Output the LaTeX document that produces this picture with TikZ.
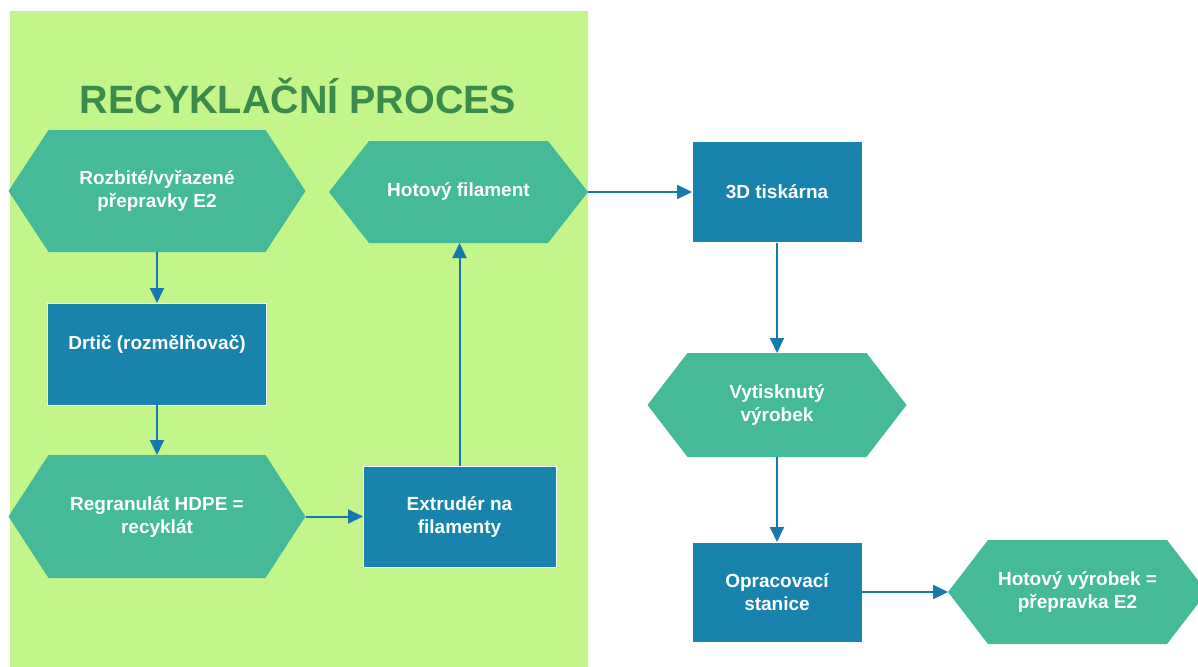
\documentclass[tikz,border=0pt]{standalone}
\usepackage{fontspec}
\setmainfont{Liberation Sans}
\usetikzlibrary{arrows.meta}
\definecolor{bggreen}{HTML}{C3F58B}
\definecolor{hexgreen}{HTML}{45BA98}
\definecolor{boxblue}{HTML}{1883AC}
\definecolor{arrblue}{HTML}{1778B0}
\definecolor{titlegreen}{HTML}{3A8B4C}
\tikzset{
  hexbox/.style={shape=rectangle, inner sep=0pt, outer sep=0pt, align=center,
    text=white, font=\bfseries\fontsize{19}{23}\selectfont,
    path picture={\fill[hexgreen] (path picture bounding box.west)
      -- ([xshift=40pt]path picture bounding box.north west)
      -- ([xshift=-40pt]path picture bounding box.north east)
      -- (path picture bounding box.east)
      -- ([xshift=-40pt]path picture bounding box.south east)
      -- ([xshift=40pt]path picture bounding box.south west) -- cycle;}},
  procbox/.style={shape=rectangle, inner sep=0pt, outer sep=0pt, align=center,
    text=white, fill=boxblue, draw=white, line width=1pt,
    font=\bfseries\fontsize{19}{23}\selectfont},
  flow/.style={draw=arrblue, line width=2pt, -{Triangle[length=15pt,width=14pt]}}
}
\begin{document}
\begin{tikzpicture}[x=1pt,y=-1pt]
\useasboundingbox (0,0) rectangle (1198,666);
\clip (0,0) rectangle (1198,666);
\fill[white] (0,0) rectangle (1198,666);
\fill[bggreen] (10,11) rectangle (588,680);
\node[text=titlegreen, font=\bfseries\fontsize{39.5}{44}\selectfont] (title) at (298,96) {RECYKLAČNÍ PROCES};

\node[hexbox, minimum width=297pt, minimum height=122pt] (src) at (157,191) {Rozbité/vyřazené\\přepravky E2};
\node[hexbox, minimum width=259pt, minimum height=102pt] (fil) at (458.5,192) {Hotový filament};
\node[hexbox, minimum width=297pt, minimum height=123pt] (gran) at (157,516.5) {Regranulát HDPE =\\recyklát};
\node[hexbox, minimum width=259pt, minimum height=104pt] (prt) at (777,405) {Vytisknutý\\výrobek};
\node[hexbox, minimum width=259pt, minimum height=104pt] (fin) at (1077.5,592) {Hotový výrobek =\\přepravka E2};

\node[procbox, minimum width=219pt, minimum height=102pt] (drt) at (157,354) {Drtič (rozmělňovač)\\\phantom{x}};
\node[procbox, minimum width=193pt, minimum height=101pt] (ext) at (459.5,516.5) {Extrudér na\\filamenty};
\node[procbox, minimum width=170pt, minimum height=101pt] (tsk) at (777,192) {3D tiskárna};
\node[procbox, minimum width=170pt, minimum height=100pt] (opr) at (777,592) {Opracovací\\stanice};

\draw[flow] (src.south) -- (drt.north);
\draw[flow] (drt.south) -- (gran.north);
\draw[flow] (gran.east) -- (ext.west);
\draw[flow] (ext.north) -- (ext.north |- fil.south);
\draw[flow] (fil.east) -- (tsk.west);
\draw[flow] (tsk.south) -- (prt.north);
\draw[flow] (prt.south) -- (opr.north);
\draw[flow] (opr.east) -- (fin.west);
\end{tikzpicture}
\end{document}
